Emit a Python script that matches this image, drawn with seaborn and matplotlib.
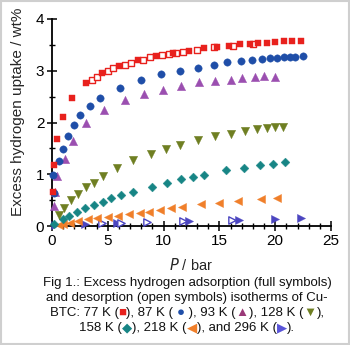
import numpy as np
import pandas as pd
import matplotlib
matplotlib.use("Agg")
import matplotlib.pyplot as plt
from matplotlib.patches import Rectangle
from matplotlib.ticker import MultipleLocator
import seaborn as sns

sns.set_theme(style="white")
plt.rcParams["font.family"] = ["Liberation Sans", "DejaVu Sans"]

# ---- isotherm data: pressure (bar) and excess uptake (wt%) ----
p77_ads = [0.05, 0.15, 0.48, 0.99, 1.83, 3.03, 4.5, 6.03, 7.73, 9.33, 10.8, 12.26, 13.58,
           14.8, 15.9, 16.84, 17.7, 18.5, 19.24, 19.99, 20.8, 21.55, 22.3]
w77_ads = [0.65, 1.17, 1.68, 2.11, 2.48, 2.76, 2.96, 3.09, 3.20, 3.29, 3.34, 3.39, 3.43,
           3.46, 3.48, 3.51, 3.52, 3.54, 3.54, 3.55, 3.57, 3.58, 3.58]
p77_des = [3.57, 4.02, 5.0, 5.5, 6.56, 7.08, 8.15, 8.8, 9.9, 10.46, 11.1, 11.7, 13.0, 14.5, 16.2, 18.0]
w77_des = [2.82, 2.88, 3.00, 3.05, 3.12, 3.15, 3.21, 3.26, 3.30, 3.32, 3.35, 3.37, 3.41, 3.45, 3.48, 3.51]

p87_ads = [0.2, 0.12, 0.66, 1.0, 1.41, 1.98, 2.55, 3.39, 4.26, 6.12, 7.98, 9.77, 11.48, 13.04,
           14.48, 15.71, 16.9, 17.9, 18.8, 19.54, 20.2, 20.8, 21.31, 21.8, 22.5]
w87_ads = [0.64, 0.99, 1.25, 1.49, 1.73, 1.95, 2.14, 2.32, 2.47, 2.67, 2.82, 2.93, 3.00, 3.06,
           3.11, 3.16, 3.18, 3.20, 3.22, 3.24, 3.25, 3.26, 3.27, 3.27, 3.28]

p93_ads = [0.18, 0.3, 0.42, 1.15, 1.89, 3.08, 4.7, 6.5, 8.2, 9.95, 11.54, 13.13, 14.6, 16.07,
           17.0, 18.17, 19.0, 20.0]
w93_ads = [0.38, 0.66, 0.97, 1.30, 1.64, 2.00, 2.24, 2.43, 2.55, 2.63, 2.71, 2.78, 2.81, 2.83,
           2.86, 2.87, 2.89, 2.88]

p128_ads = [0.63, 1.1, 1.71, 2.37, 3.06, 3.8, 4.56, 5.82, 7.3, 8.88, 10.2, 11.45, 13.1, 14.6,
            16.0, 17.27, 18.35, 19.24, 20.0, 20.7]
w128_ads = [0.21, 0.34, 0.50, 0.62, 0.75, 0.84, 0.97, 1.13, 1.28, 1.39, 1.49, 1.57, 1.66, 1.73,
            1.78, 1.84, 1.87, 1.89, 1.91, 1.92]

p158_ads = [0.2, 0.96, 1.56, 2.28, 2.97, 3.72, 4.53, 5.28, 6.18, 7.3, 8.93, 10.31, 11.57, 12.6,
            13.6, 15.56, 17.2, 18.64, 19.81, 20.86]
w158_ads = [0.04, 0.13, 0.20, 0.27, 0.35, 0.41, 0.46, 0.55, 0.59, 0.66, 0.76, 0.84, 0.91, 0.95,
            0.99, 1.08, 1.13, 1.17, 1.20, 1.23]

p218_ads = [0.66, 1.0, 1.62, 2.34, 3.2, 4.0, 5.06, 5.9, 6.86, 7.9, 8.66, 9.71, 10.67, 11.66,
            13.37, 14.99, 16.7, 18.7, 20.2]
w218_ads = [0.02, 0.04, 0.06, 0.10, 0.13, 0.15, 0.17, 0.20, 0.23, 0.26, 0.27, 0.31, 0.34, 0.37,
            0.42, 0.45, 0.48, 0.52, 0.55]

p296_ads = [0.3, 2.95, 5.8, 12.25, 16.75, 20.0, 22.35]
w296_ads = [0.01, 0.03, 0.05, 0.10, 0.12, 0.14, 0.15]
p296_des = [4.5, 6.2, 8.5, 11.7, 16.15]
w296_des = [0.05, 0.06, 0.07, 0.10, 0.12]

colors = {
    "77": "#e8211d",
    "87": "#1f4ea8",
    "93": "#9b4fb0",
    "128": "#6f7f22",
    "158": "#178585",
    "218": "#f07f2a",
    "296": "#4b45c0",
}

fig = plt.figure(figsize=(3.5, 3.45), dpi=100)
fig.patch.set_facecolor("white")
ax = fig.add_axes([52 / 350, 119 / 345, 279 / 350, 207 / 345])
ax.set_facecolor("white")


def series(p, w, key, marker, size, open_=False):
    df = pd.DataFrame({"P": p, "w": w})
    c = colors[key]
    sns.scatterplot(data=df, x="P", y="w", ax=ax, marker=marker, s=size,
                    color="white" if open_ else c, edgecolor=c,
                    linewidth=1.0 if open_ else 0.3, clip_on=False, zorder=3, legend=False)


series(p296_ads, w296_ads, "296", ">", 34)
series(p296_des, w296_des, "296", ">", 28, open_=True)
series(p218_ads, w218_ads, "218", "<", 34)
series(p158_ads, w158_ads, "158", "D", 20)
series(p128_ads, w128_ads, "128", "v", 36)
series(p93_ads, w93_ads, "93", "^", 36)
series(p87_ads, w87_ads, "87", "o", 28)
series(p77_des, w77_des, "77", "s", 18, open_=True)
series(p77_ads, w77_ads, "77", "s", 24)

ax.set_xlim(0, 25)
ax.set_ylim(0, 4)
ax.xaxis.set_major_locator(MultipleLocator(5))
ax.xaxis.set_minor_locator(MultipleLocator(1))
ax.yaxis.set_major_locator(MultipleLocator(1))
ax.yaxis.set_minor_locator(MultipleLocator(0.5))
ax.tick_params(which="major", direction="inout", length=7, width=1.1, colors="black",
               labelsize=11, pad=2, left=True, bottom=True)
ax.tick_params(which="minor", direction="inout", length=5, width=1.0, colors="black",
               left=True, bottom=True)
for s in ["top", "right"]:
    ax.spines[s].set_visible(False)
for s in ["left", "bottom"]:
    ax.spines[s].set_color("black")
    ax.spines[s].set_linewidth(1.3)

ax.set_xlabel("$\\mathit{P}$ / bar", fontsize=10.5, labelpad=2)
ax.set_ylabel("Excess hydrogen uptake / wt%", fontsize=11)
ax.yaxis.set_label_coords(-0.097, 0.55)
ax.xaxis.set_label_coords(0.497, -0.15)

# ---- caption with coloured symbols ----
cap_size = 9.5
lines = [
    [("Fig 1.: Excess hydrogen adsorption (full symbols)", "#111111")],
    [("and desorption (open symbols) isotherms of Cu-", "#111111")],
    [("BTC: 77 K (", "#111111"), ("■", colors["77"]), ("), 87 K ( ", "#111111"),
     ("●", colors["87"]), (" ), 93 K (", "#111111"), ("▲", "#9a3a78"),
     ("), 128 K (", "#111111"), ("▼", colors["128"]), ("),", "#111111")],
    [("158 K (", "#111111"), ("◆", colors["158"]), ("), 218 K (", "#111111"),
     ("◀", colors["218"]), ("), and 296 K (", "#111111"), ("▶", "#5a55d8"), (").", "#111111")],
]
line_y = [283, 298, 313, 328]
cx = 187
W, H = 350, 345

renderer = fig.canvas.get_renderer()


def width_of(s):
    t1 = fig.text(0, 0, "|" + s + "|", fontsize=cap_size)
    t2 = fig.text(0, 0, "||", fontsize=cap_size)
    w = t1.get_window_extent(renderer).width - t2.get_window_extent(renderer).width
    t1.remove()
    t2.remove()
    return w


for parts, yy in zip(lines, line_y):
    widths = [width_of(s) for s, _ in parts]
    x = cx - sum(widths) / 2
    for (s, c), w in zip(parts, widths):
        fig.text(x / W, 1 - yy / H, s, fontsize=cap_size, color=c, ha="left", va="center")
        x += w

fig.patches.append(Rectangle((0.002, 0.002), 0.996, 0.996, transform=fig.transFigure,
                             fill=False, edgecolor="#cfcfcf", linewidth=1.5))

fig.savefig("out.png", dpi=100, facecolor="white")
